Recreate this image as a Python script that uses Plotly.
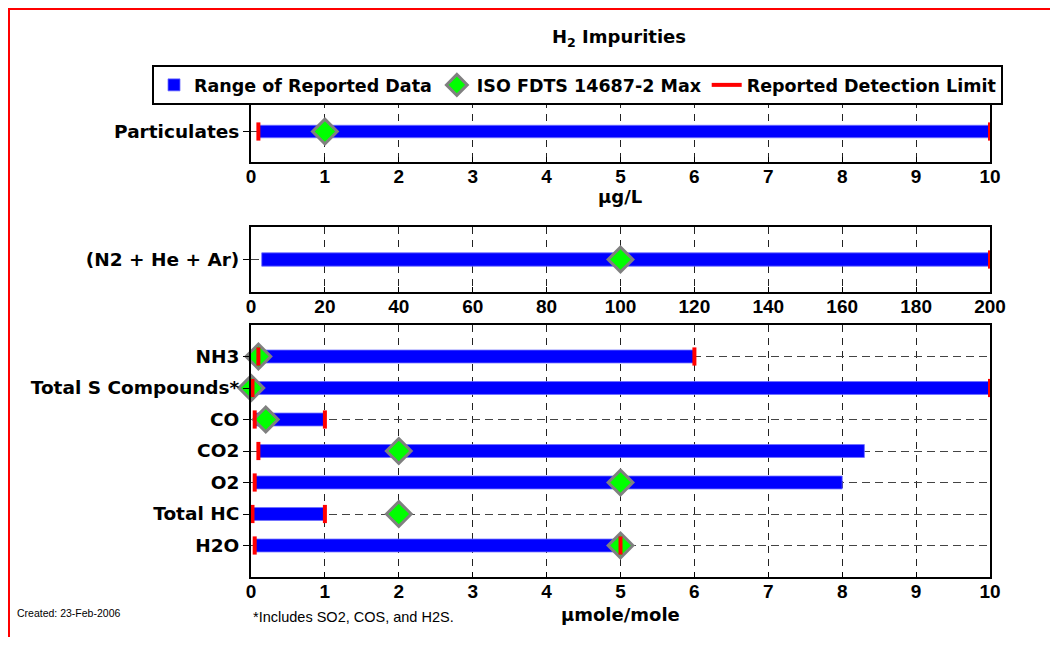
import plotly.graph_objects as go

# ---------------- data ----------------
p1_cats = ["Particulates"]
p1_low = [0.1]
p1_high = [10]
p1_iso = [1]
p1_dl_cat = ["Particulates", "Particulates"]
p1_dl_val = [0.1, 10]

p2_cats = ["(N2 + He + Ar)"]
p2_low = [2.9]
p2_high = [200]
p2_iso = [100]
p2_dl_cat = ["(N2 + He + Ar)"]
p2_dl_val = [200]

p3_cats = ["NH3", "Total S Compounds*", "CO", "CO2", "O2", "Total HC", "H2O"]
p3_low = [0.1, 0.02, 0.05, 0.1, 0.05, 0.02, 0.05]
p3_high = [6, 10, 1, 8.3, 8, 1, 5]
p3_iso = [0.1, 0.004, 0.2, 2, 5, 2, 5]
p3_dl_cat = ["NH3", "NH3", "Total S Compounds*", "Total S Compounds*", "CO", "CO",
             "CO2", "O2", "Total HC", "Total HC", "H2O", "H2O"]
p3_dl_val = [0.1, 6, 0.02, 10, 0.05, 1, 0.1, 0.05, 0.02, 1, 0.05, 5]

x1_ticks = list(range(0, 11))
x2_ticks = list(range(0, 201, 20))
x3_ticks = list(range(0, 11))

# ---------------- styling ----------------
OFF = 8                      # page body margin
W, H = 1042, 629             # figure size (page is 1058x645)
L, R = 251 - OFF, 990 - OFF  # plot area left/right in figure px
T = 101 - OFF                # plot area top in figure px
PH = H - T                   # plot area height (bottom margin 0)
BLUE = "#0000FF"
GREEN = "#00FF00"
GRAY = "#808080"
RED = "#FF0000"
NUM_FONT = dict(family="Liberation Sans, Arial, sans-serif", size=19, color="black", weight="bold")
CAT_FONT = dict(family="DejaVu Sans, Arial, sans-serif", size=18.5, color="black", weight="bold")
DJ = "DejaVu Sans, Arial, sans-serif"


def sy(p):
    """screen y pixel -> paper y"""
    return 1 - (p - OFF - T) / PH


def sx(p):
    """screen x pixel -> paper x"""
    return (p - OFF - L) / (R - L)


fig = go.Figure()

panels = [
    (p1_cats, p1_low, p1_high, p1_iso, p1_dl_cat, p1_dl_val, "x", "y"),
    (p2_cats, p2_low, p2_high, p2_iso, p2_dl_cat, p2_dl_val, "x2", "y2"),
    (p3_cats, p3_low, p3_high, p3_iso, p3_dl_cat, p3_dl_val, "x3", "y3"),
]

for i, (cats, low, high, iso, dlc, dlv, xa, ya) in enumerate(panels):
    fig.add_trace(go.Bar(
        y=cats, x=[h - l for l, h in zip(low, high)], base=low, orientation="h",
        width=0.41, marker=dict(color=BLUE, line=dict(width=0.8, color="#7070ff")),
        name="Range of Reported Data", showlegend=(i == 0), legendgroup="a",
        xaxis=xa, yaxis=ya, hoverinfo="skip"))
    fig.add_trace(go.Scatter(
        y=cats, x=iso, mode="markers",
        marker=dict(symbol="diamond", size=19, color=GREEN, line=dict(color=GRAY, width=3)),
        name="ISO FDTS 14687-2 Max", showlegend=(i == 0), legendgroup="b",
        xaxis=xa, yaxis=ya, cliponaxis=False))
    fig.add_trace(go.Scatter(
        y=dlc, x=dlv, mode="markers",
        marker=dict(symbol="line-ns", size=13, color=RED, line=dict(color=RED, width=4)),
        showlegend=False, legendgroup="c", xaxis=xa, yaxis=ya, cliponaxis=False))

# legend-only entry for detection limit (horizontal red line)
fig.add_trace(go.Scatter(x=[None], y=[None], mode="lines", line=dict(color=RED, width=4),
                         name="Reported Detection Limit", legendgroup="c", xaxis="x3", yaxis="y3"))

common_x = dict(showline=True, linecolor="black", linewidth=2, mirror=True,
                showgrid=True, gridcolor="#222222", griddash="7px,6px", gridwidth=1.2,
                ticks="inside", ticklen=5, tickcolor="black", tickfont=NUM_FONT,
                ticklabelstandoff=-4, zeroline=False, fixedrange=True)
common_y = dict(showline=True, linecolor="black", linewidth=2, mirror=True,
                showgrid=True, gridcolor="#444444", griddash="8px,5px", gridwidth=1.2,
                ticks="outside", ticklen=6, tickcolor="black", tickfont=CAT_FONT,
                type="category", zeroline=False, fixedrange=True)


def note(text, x, y, size, family=DJ, weight="bold", xanchor="center"):
    return dict(text=text, x=sx(x), y=sy(y), xref="paper", yref="paper",
                xanchor=xanchor, yanchor="middle", showarrow=False,
                font=dict(family=family, size=size, weight=weight))


fig.update_layout(
    width=W, height=H,
    margin=dict(l=L, r=W - R, t=T, b=0, autoexpand=False),
    paper_bgcolor="white", plot_bgcolor="white",
    barmode="overlay",
    font=dict(family="Liberation Sans, Arial, sans-serif", color="black"),
    xaxis=dict(common_x, range=[0, 10], tickvals=x1_ticks, anchor="y"),
    yaxis=dict(common_y, domain=[sy(162), 1], range=[1, -1], anchor="x"),
    xaxis2=dict(common_x, range=[0, 200], tickvals=x2_ticks, anchor="y2"),
    yaxis2=dict(common_y, domain=[sy(292), sy(227)], range=[1, -1], anchor="x2"),
    xaxis3=dict(common_x, range=[0, 10], tickvals=x3_ticks, anchor="y3"),
    yaxis3=dict(common_y, domain=[sy(577), sy(325)], range=[7, -1], anchor="x3"),
    legend=dict(orientation="h", x=sx(152), xanchor="left", y=sy(65), yanchor="top",
                bordercolor="black", borderwidth=2, bgcolor="white",
                font=dict(family=DJ, size=17.5, weight="bold"),
                itemclick=False, itemdoubleclick=False, traceorder="normal"),
    annotations=[
        note("H<sub>2</sub> Impurities", 619, 38, 18),
        note("μg/L", 620, 196, 18),
        note("μmole/mole", 620, 614, 18),
        note("Created: 23-Feb-2006", 15, 613, 10.5, family="Liberation Sans, Arial, sans-serif",
             weight="normal", xanchor="left"),
        note("*Includes SO2, COS, and H2S.", 251, 617, 14.5, family="Liberation Sans, Arial, sans-serif",
             weight="normal", xanchor="left"),
    ],
    shapes=[
        dict(type="rect", xref="paper", yref="paper", x0=sx(9), x1=sx(1100), y0=sy(700), y1=sy(9),
             line=dict(color=RED, width=2), layer="above"),
    ],
)

fig.write_html("out.html")
